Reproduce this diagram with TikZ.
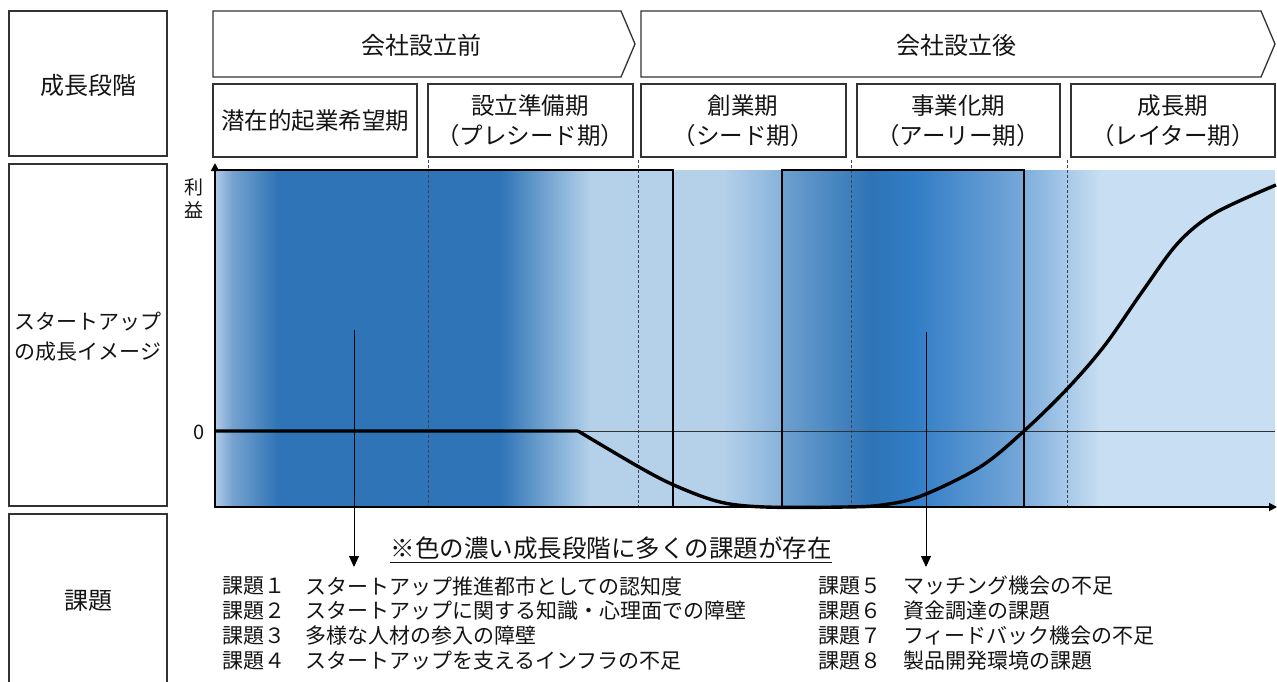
\documentclass[tikz,border=0pt]{standalone}
\usepackage{fontspec}
\setmainfont{Noto Sans CJK JP}
\usetikzlibrary{arrows.meta}
\definecolor{txt}{RGB}{20,20,20}
\definecolor{frame}{RGB}{50,50,50}
\definecolor{bL0}{RGB}{175,203,230}
\definecolor{bM1}{RGB}{118,162,208}
\definecolor{bD}{RGB}{46,116,182}
\definecolor{bDB}{RGB}{50,125,198}
\definecolor{bL}{RGB}{181,209,234}
\definecolor{bL2}{RGB}{200,222,242}
\definecolor{bM2}{RGB}{135,178,218}
\definecolor{bM3}{RGB}{110,160,207}
\definecolor{bM4}{RGB}{118,168,216}
\definecolor{bM5}{RGB}{125,173,220}
\definecolor{dashc}{RGB}{60,70,90}
\tikzset{
  fbox/.style={draw=frame, line width=1.3pt},
  lbl/.style={text=txt, font=\fontsize{24}{28}\selectfont, align=center, inner sep=0pt},
  stg/.style={text=txt, font=\fontsize{23.5}{30}\selectfont, align=center, inner sep=0pt},
  item/.style={text=txt, font=\fontsize{21}{22}\selectfont, anchor=west, inner sep=0pt},
  thickbox/.style={draw=black, line width=2.4pt},
  dashline/.style={draw=dashc, line width=0.7pt, dash pattern=on 3pt off 2pt},
  pointer/.style={draw=black, line width=0.9pt, -{Triangle[length=11pt,width=10pt]}},
  axis/.style={draw=black, line width=1.8pt, -{Triangle[length=8pt,width=8pt]}}
}
\begin{document}
\begin{tikzpicture}[x=1pt,y=-1pt]
\useasboundingbox (0,0) rectangle (1277,682);

% left column
\draw[fbox] (9,11) rectangle (167,156);
\node[lbl] (lab1) at (88,85) {成長段階};
\draw[fbox] (9,164) rectangle (167,506);
\node[lbl, font=\fontsize{21}{30}\selectfont] (lab2) at (88,337) {スタートアップ\\の成長イメージ};
\draw[fbox] (9,514) rectangle (167,700);
\node[lbl] (lab3) at (88,601) {課題};

% chevrons
\draw[fbox] (213,11) -- (621,11) -- (635,44) -- (621,77) -- (213,77) -- cycle;
\node[stg, font=\fontsize{24}{30}\selectfont] (pre) at (421,45) {会社設立前};
\draw[fbox] (641,11) -- (1261,11) -- (1275,44) -- (1261,77) -- (641,77) -- cycle;
\node[stg, font=\fontsize{24}{30}\selectfont] (post) at (956,45) {会社設立後};

% stage boxes
\draw[fbox] (213,84) rectangle (417,157);
\node[stg] (s1) at (315,121) {潜在的起業希望期};
\draw[fbox] (428,84) rectangle (633,157);
\node[stg] (s2) at (530,121) {設立準備期\\（プレシード期）};
\draw[fbox] (641,84) rectangle (846,157);
\node[stg] (s3) at (743,121) {創業期\\（シード期）};
\draw[fbox] (857,84) rectangle (1060,157);
\node[stg] (s4) at (958,121) {事業化期\\（アーリー期）};
\draw[fbox] (1071,84) rectangle (1275,157);
\node[stg] (s5) at (1173,121) {成長期\\（レイター期）};

% gradient band
\shade[left color=bL0, right color=bM1] (215,170) rectangle (232.5,506);
\shade[left color=bM1, right color=bD] (232,170) rectangle (278.5,506);
\fill[bD] (278,170) rectangle (500.5,506);
\shade[left color=bD, right color=bL] (500,170) rectangle (590.5,506);
\fill[bL] (590,170) rectangle (722.5,506);
\shade[left color=bL, right color=bM2] (722,170) rectangle (782.5,506);
\shade[left color=bM3, right color=bD] (782,170) rectangle (870.5,506);
\shade[left color=bD, right color=bDB] (870,170) rectangle (915.5,506);
\shade[left color=bDB, right color=bM4] (915,170) rectangle (1023.5,506);
\shade[left color=bM5, right color=bL2] (1023,170) rectangle (1100.5,506);
\fill[bL2] (1100,170) rectangle (1275,506);

% dashed stage separators
\foreach \xx in {428,638,851,1067} {\draw[dashline] (\xx,160) -- (\xx,506);}

% zero line
\draw[draw=frame, line width=0.8pt] (215,431) -- (1275,431);

% highlight boxes
\draw[thickbox] (215,170) rectangle (673,507);
\draw[thickbox] (782,170) rectangle (1024,507);

% axes
\coordinate (org) at (215,507);
\coordinate (ytip) at (215,163);
\coordinate (xtip) at (1277,507);
\draw[axis] (org) -- (ytip);
\draw[axis] (org) -- (xtip);
\node[text=txt, font=\fontsize{19}{20}\selectfont, inner sep=0pt] (rie1) at (194,187) {利};
\node[text=txt, font=\fontsize{19}{20}\selectfont, inner sep=0pt] (rie2) at (194,210) {益};
\node[text=txt, font=\fontsize{20}{21}\selectfont, inner sep=0pt] (zero) at (199,432) {0};

% growth curve
\draw[line width=3.4pt, line join=round] (215,431) -- (578,431)
  plot[smooth, tension=0.55] coordinates {(578,431) (639,467) (676,486) (720,502) (765,507) (845,507) (882,505) (921,496) (980,467) (1024,431) (1068,388) (1105,345) (1142,292) (1178,243) (1215,213) (1276,185)};

% pointers
\coordinate (p1s) at (354,330);
\coordinate (p1e) at (354,567);
\draw[pointer] (p1s) -- (p1e);
\coordinate (p2s) at (926,332);
\coordinate (p2e) at (926,567);
\draw[pointer] (p2s) -- (p2e);

% note
\node[text=txt, font=\fontsize{24.5}{26}\selectfont, inner sep=0pt] (note) at (611,548) {※色の濃い成長段階に多くの課題が存在};
\draw[draw=txt, line width=1pt] ([yshift=-3pt]note.south west) -- ([yshift=-3pt]note.south east);

% issue list left
\node[item] (k1) at (222,586) {課題１};
\node[item] (d1) at (305,586) {スタートアップ推進都市としての認知度};
\node[item] (k2) at (222,611) {課題２};
\node[item] (d2) at (305,611) {スタートアップに関する知識・心理面での障壁};
\node[item] (k3) at (222,636) {課題３};
\node[item] (d3) at (305,636) {多様な人材の参入の障壁};
\node[item] (k4) at (222,661) {課題４};
\node[item] (d4) at (305,661) {スタートアップを支えるインフラの不足};
% issue list right
\node[item] (k5) at (818,586) {課題５};
\node[item] (d5) at (903,586) {マッチング機会の不足};
\node[item] (k6) at (818,611) {課題６};
\node[item] (d6) at (903,611) {資金調達の課題};
\node[item] (k7) at (818,636) {課題７};
\node[item] (d7) at (903,636) {フィードバック機会の不足};
\node[item] (k8) at (818,661) {課題８};
\node[item] (d8) at (903,661) {製品開発環境の課題};
\end{tikzpicture}
\end{document}
